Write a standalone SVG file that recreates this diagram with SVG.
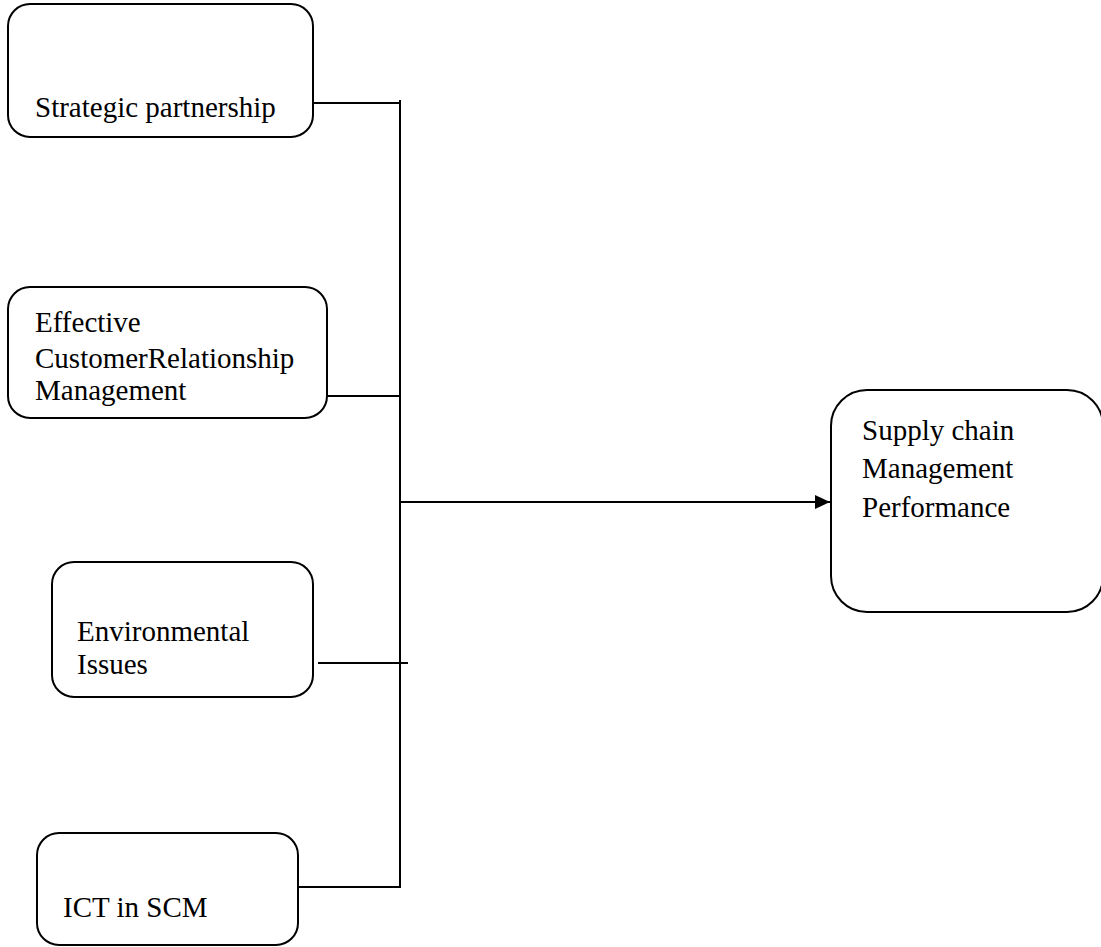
<svg xmlns="http://www.w3.org/2000/svg" width="1101" height="947" viewBox="0 0 1101 947">
<style>
.box{fill:#fff;stroke:#000;stroke-width:2}
.lbl{font-family:"Liberation Serif","Times New Roman",serif;font-size:29px;fill:#000}
.ln{stroke:#000;stroke-width:2;fill:none}
</style>
<defs>
<marker id="arr" markerUnits="userSpaceOnUse" markerWidth="16" markerHeight="16" refX="15" refY="8" orient="auto">
<path d="M0,1 L15,8 L0,15 Z" fill="#000"/>
</marker>
</defs>
<rect width="1101" height="947" fill="#fff"/>
<g id="connectors">
<line class="ln" x1="313" y1="103" x2="401" y2="103"/>
<line class="ln" x1="400" y1="100" x2="400" y2="888"/>
<line class="ln" x1="327" y1="396" x2="401" y2="396"/>
<line class="ln" x1="318" y1="663" x2="408" y2="663"/>
<line class="ln" x1="298" y1="887" x2="401" y2="887"/>
<line class="ln" x1="400" y1="502" x2="830" y2="502" marker-end="url(#arr)"/>
</g>
<g id="node-strategic">
<rect class="box" x="8" y="4" width="305" height="133" rx="22"/>
<text class="lbl" x="35" y="117">Strategic partnership</text>
</g>
<g id="node-crm">
<rect class="box" x="8" y="287" width="319" height="131" rx="22"/>
<text class="lbl" x="35" y="332">Effective</text>
<text class="lbl" x="35" y="368">CustomerRelationship</text>
<text class="lbl" x="35" y="400">Management</text>
</g>
<g id="node-env">
<rect class="box" x="52" y="562" width="261" height="135" rx="22"/>
<text class="lbl" x="77" y="641">Environmental</text>
<text class="lbl" x="77" y="674">Issues</text>
</g>
<g id="node-ict">
<rect class="box" x="37" y="833" width="261" height="112" rx="22"/>
<text class="lbl" x="63" y="917">ICT in SCM</text>
</g>
<g id="node-scm">
<rect class="box" x="831" y="390" width="272" height="222" rx="36"/>
<text class="lbl" x="862" y="440">Supply chain</text>
<text class="lbl" x="862" y="478">Management</text>
<text class="lbl" x="862" y="517">Performance</text>
</g>
</svg>
